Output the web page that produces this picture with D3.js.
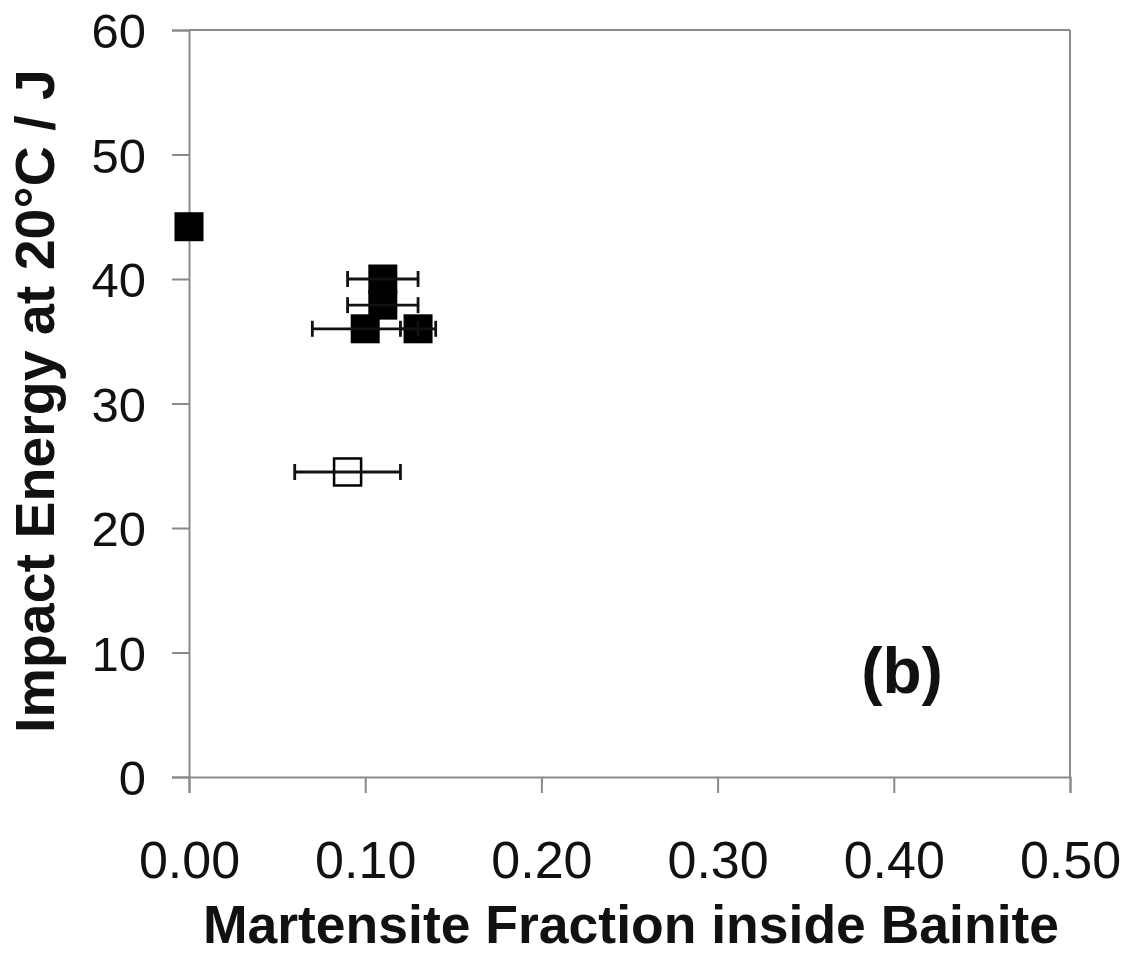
<!DOCTYPE html>
<html>
<head>
<meta charset="utf-8">
<script src="https://cdn.jsdelivr.net/npm/d3@7"></script>
<style>
  html, body { margin: 0; padding: 0; background: #fff; }
  svg { display: block; }
  text { font-family: "Liberation Sans", Arial, sans-serif; fill: #111; }
</style>
</head>
<body>
<svg id="chart" width="1126" height="955"></svg>
<script>
// ---- Data ----
const xTicks = [0.00, 0.10, 0.20, 0.30, 0.40, 0.50];
const yTicks = [0, 10, 20, 30, 40, 50, 60];

// filled squares
const filledX   = [0.00, 0.11, 0.11, 0.10, 0.13];
const filledY   = [44.2, 40.0, 37.9, 36.0, 36.0];
const filledErr = [0,    0.02, 0.02, 0.03, 0.01];

// open square
const openX   = [0.09];
const openY   = [24.5];
const openErr = [0.03];

const xTitle = "Martensite Fraction inside Bainite";
const yTitle = "Impact Energy at 20°C / J";
const panelLabel = "(b)";

(function () {
// ---- Layout ----
const svg = d3.select("#chart");
const pL = 189, pR = 1070, pT = 30, pB = 777;
const x = d3.scaleLinear().domain([0, 0.5]).range([pL, pR]);
const y = d3.scaleLinear().domain([0, 60]).range([pB, pT]);
const axisColor = "#8a8a8a";

// frame (top & right)
svg.append("line").attr("x1", pL).attr("x2", pR).attr("y1", pT).attr("y2", pT)
  .attr("stroke", axisColor).attr("stroke-width", 2);
svg.append("line").attr("x1", pR).attr("x2", pR).attr("y1", pT).attr("y2", pB)
  .attr("stroke", axisColor).attr("stroke-width", 2);

// axes
const xAxis = d3.axisBottom(x).tickValues(xTicks).tickSize(16).tickFormat(d3.format(".2f"));
const gx = svg.append("g").attr("transform", `translate(0,${pB})`).call(xAxis);
gx.select(".domain").attr("stroke", axisColor).attr("stroke-width", 2);
gx.selectAll(".tick line").attr("stroke", axisColor).attr("stroke-width", 2);
gx.selectAll(".tick text").attr("font-size", 52).attr("fill", "#111")
  .attr("y", 101).attr("dy", 0)
  .style("font-family", "'Liberation Sans', Arial, sans-serif");

const yAxis = d3.axisLeft(y).tickValues(yTicks).tickSize(17).tickFormat(d3.format("d"));
const gy = svg.append("g").attr("transform", `translate(${pL},0)`).call(yAxis);
gy.select(".domain").attr("stroke", axisColor).attr("stroke-width", 2);
gy.selectAll(".tick line").attr("stroke", axisColor).attr("stroke-width", 2);
gy.selectAll(".tick text").attr("font-size", 49).attr("fill", "#111")
  .attr("x", -43).attr("dy", "0.36em")
  .style("font-family", "'Liberation Sans', Arial, sans-serif");

// titles
svg.append("text").attr("x", 631).attr("y", 943)
  .attr("text-anchor", "middle").attr("font-size", 53.5).attr("font-weight", "bold")
  .text(xTitle);
svg.append("text")
  .attr("transform", `translate(54,${401}) rotate(-90)`)
  .attr("text-anchor", "middle").attr("font-size", 55.5).attr("font-weight", "bold")
  .text(yTitle);

svg.append("text").attr("x", 902).attr("y", 693)
  .attr("text-anchor", "middle").attr("font-size", 64).attr("font-weight", "bold")
  .text(panelLabel);

// ---- Marks ----
const sq = 29, cap = 16;
const filled = filledX.map((d, i) => ({ x: d, y: filledY[i], e: filledErr[i] }));
const open = openX.map((d, i) => ({ x: d, y: openY[i], e: openErr[i] }));

function drawErr(data) {
  const g = svg.append("g").attr("stroke", "#111").attr("stroke-width", 2.8);
  data.filter(d => d.e > 0).forEach(d => {
    g.append("line").attr("x1", x(d.x - d.e)).attr("x2", x(d.x + d.e))
      .attr("y1", y(d.y)).attr("y2", y(d.y));
    [d.x - d.e, d.x + d.e].forEach(v => {
      g.append("line").attr("x1", x(v)).attr("x2", x(v))
        .attr("y1", y(d.y) - cap / 2).attr("y2", y(d.y) + cap / 2);
    });
  });
}

svg.append("g").selectAll("rect").data(filled).join("rect")
  .attr("x", d => x(d.x) - sq / 2).attr("y", d => y(d.y) - sq / 2)
  .attr("width", sq).attr("height", sq).attr("fill", "#000");

svg.append("g").selectAll("rect").data(open).join("rect")
  .attr("x", d => x(d.x) - sq / 2 + 1).attr("y", d => y(d.y) - sq / 2 + 1)
  .attr("width", sq - 2).attr("height", sq - 2)
  .attr("fill", "none").attr("stroke", "#000").attr("stroke-width", 2.5);

drawErr(filled);
drawErr(open);
})();
</script>
</body>
</html>
